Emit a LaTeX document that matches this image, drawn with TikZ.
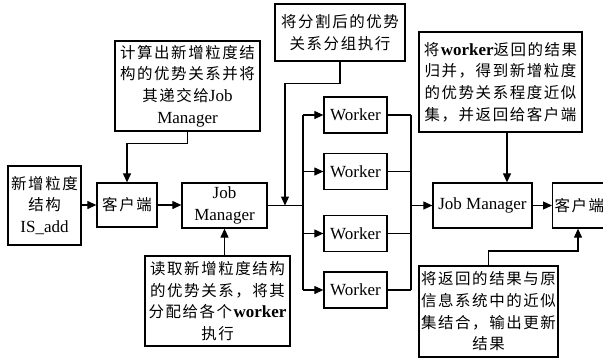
\documentclass[tikz,border=0pt]{standalone}
\usepackage{fontspec}
\setmainfont{Liberation Serif}
\newfontfamily\cjk[LetterSpace=10,Scale=0.91]{Noto Sans CJK SC}
\newcommand\zh[1]{{\cjk #1}}
\usetikzlibrary{arrows.meta}
\begin{document}
\begin{tikzpicture}[x=1pt,y=-1pt,
  box/.style={draw, line width=1.3pt, inner sep=0pt, align=center,
    font=\fontsize{17}{21.7}\selectfont},
  conn/.style={line width=1.2pt},
  arr/.style={conn,-{Triangle[length=9pt,width=8pt]}}]
\useasboundingbox (0,0) rectangle (603,359);
\begin{scope}
\clip (0,0) rectangle (603,359);
% main chain
\node[box, minimum width=73pt, minimum height=79pt] (isadd) at (44.5,205.5) {\zh{新增粒度}\\\zh{结构}\\IS\_add};
\node[box, minimum width=60pt, minimum height=44pt] (kh1) at (127,205) {\zh{客户端}};
\node[box, minimum width=85pt, minimum height=45pt] (jm1) at (224.5,205.5) {Job\\Manager};
\node[box, minimum width=63pt, minimum height=36pt] (w1) at (355.5,115) {Worker};
\node[box, minimum width=63pt, minimum height=36pt] (w2) at (355.5,171.5) {Worker};
\node[box, minimum width=63pt, minimum height=36pt] (w3) at (355.5,233.5) {Worker};
\node[box, minimum width=63pt, minimum height=36pt] (w4) at (355.5,290) {Worker};
\node[box, minimum width=99pt, minimum height=45pt] (jm2) at (482.5,205.5) {Job Manager};
\node[box, anchor=west, text width=59pt, inner xsep=2pt, align=left, minimum height=45pt] (kh2) at (552,205.5) {\zh{客户端}};
% annotation boxes
\node[box, minimum width=145pt, minimum height=90pt] (b1) at (187.5,86) {\zh{计算出新增粒度结}\\\zh{构的优势关系并将}\\\zh{其递交给}Job\\Manager};
\node[box, minimum width=130pt, minimum height=57pt] (b2) at (340,32.5) {\zh{将分割后的优势}\\\zh{关系分组执行}};
\node[box, minimum width=163pt, minimum height=100pt] (b3) at (500.5,82) {\zh{将}\textbf{worker}\zh{返回的结果}\\\zh{归并，得到新增粒度}\\\zh{的优势关系程度近似}\\\zh{集，并返回给客户端}};
\node[box, minimum width=139pt, minimum height=91pt] (b4) at (488.5,311.5) {\zh{将返回的结果与原}\\\zh{信息系统中的近似}\\\zh{集结合，输出更新}\\\zh{结果}};
\node[box, minimum width=145pt, minimum height=90pt] (b5) at (217.5,301) {\zh{读取新增粒度结构}\\\zh{的优势关系，将其}\\\zh{分配给各个}\textbf{worker}\\\zh{执行}};
% coordinates
\coordinate (split) at (303,205.5);
\coordinate (merge) at (411,205.5);
\coordinate (j2) at (285,205.5);
\coordinate (c3) at (507,0);
\coordinate (c4) at (578,251);
% connectors
\draw[arr] (isadd.east |- kh1.west) -- (kh1.west);
\draw[arr] (kh1.east) -- (jm1.west |- kh1.east);
\draw[arr] (b1.south) -- ++(0,12) -| (kh1.north);
\draw[conn] (jm1.east) -- (split);
\draw[arr] (b2.south) -- ++(0,22) -| (j2);
\draw[conn] (split |- w1.west) -- (split |- w4.west);
\foreach \w in {w1,w2,w3,w4} {
  \draw[arr] (split |- \w.west) -- (\w.west);
  \draw[conn] (\w.east) -- (merge |- \w.east);
}
\draw[conn] (merge |- w1.east) -- (merge |- w4.east);
\draw[arr] (merge) -- (jm2.west);
\draw[arr] (jm2.east) -- (kh2.west);
\draw[arr] (b3.south -| c3) -- (jm2.north -| c3);
\draw[arr] (b4.north) |- (c4) -- (kh2.south -| c4);
\draw[arr] (b5.north -| jm1.south) -- (jm1.south);
\end{scope}
\end{tikzpicture}
\end{document}
